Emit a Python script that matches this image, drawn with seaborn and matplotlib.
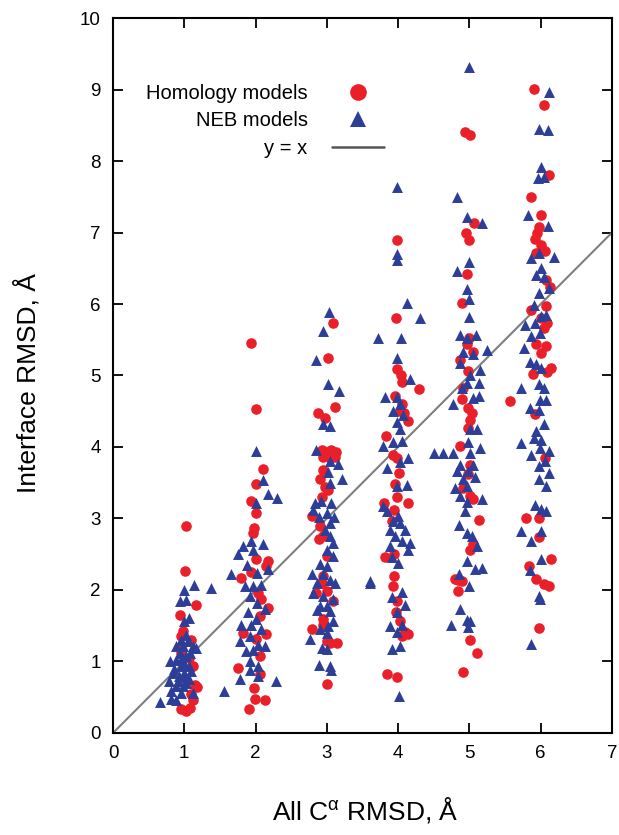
import matplotlib
matplotlib.use("Agg")
import matplotlib.pyplot as plt
from matplotlib.lines import Line2D
import seaborn as sns
import pandas as pd

# 점 좌표 : (All C-alpha RMSD, Interface RMSD)
hom_1 = [(1.03, 2.90), (1.01, 2.27), (1.17, 1.79), (0.94, 1.65), (0.98, 1.42), (0.96, 1.35),
         (1.10, 1.30), (0.95, 1.20), (0.96, 1.12), (1.06, 1.05), (1.12, 0.93), (1.15, 0.67),
         (1.18, 0.64), (1.10, 0.55), (1.12, 0.46), (1.08, 0.35), (0.96, 0.33), (1.02, 0.31)]
neb_1 = [(1.00, 2.00), (1.13, 2.07), (1.37, 2.03), (0.94, 1.84), (1.03, 1.86), (1.06, 1.61),
         (0.99, 1.57), (1.02, 1.37), (0.89, 1.21), (0.98, 1.21), (1.12, 1.21), (1.17, 1.19),
         (0.80, 1.00), (0.89, 1.02), (0.96, 0.93), (1.06, 0.93), (0.84, 0.84), (0.99, 0.84),
         (1.10, 0.86), (0.78, 0.72), (0.91, 0.72), (1.03, 0.70), (0.82, 0.58), (0.96, 0.56),
         (1.12, 0.56), (0.66, 0.44), (0.82, 0.47), (1.56, 0.58), (0.89, 0.46), (0.94, 1.12),
         (1.03, 1.07), (1.08, 1.12), (0.85, 0.90), (0.92, 0.80), (1.02, 0.78), (0.96, 1.30),
         (1.05, 1.28), (0.95, 1.02), (1.00, 0.98), (1.07, 0.75), (0.98, 0.65), (0.88, 0.66)]

hom_2 = [(1.94, 5.46), (2.01, 4.53), (2.11, 3.69), (2.01, 3.48), (1.93, 3.24), (2.01, 3.08),
         (1.98, 2.87), (1.97, 2.80), (2.01, 2.43), (2.18, 2.41), (2.15, 2.33), (1.80, 2.17),
         (1.94, 2.25), (2.04, 1.96), (2.08, 1.87), (2.18, 1.75), (2.06, 1.63), (1.83, 1.40),
         (2.15, 1.39), (2.01, 1.31), (2.06, 1.07), (1.76, 0.91), (2.06, 0.83), (1.98, 0.63),
         (1.99, 0.48), (2.13, 0.46), (1.91, 0.33)]
neb_2 = [(2.01, 3.94), (2.10, 3.54), (2.17, 3.34), (2.30, 3.29), (2.00, 3.22), (1.76, 2.51),
         (1.66, 2.22), (1.83, 2.61), (1.94, 2.68), (2.11, 2.65), (1.97, 2.56), (1.88, 2.35),
         (2.02, 2.24), (2.18, 2.30), (1.85, 2.05), (1.96, 2.05), (2.08, 2.07), (1.92, 1.91),
         (2.02, 1.82), (2.13, 1.73), (1.90, 1.69), (2.00, 1.59), (1.80, 1.51), (1.94, 1.51),
         (2.08, 1.46), (1.92, 1.35), (1.78, 1.28), (2.04, 1.23), (2.13, 1.21), (1.87, 1.14),
         (1.96, 1.16), (1.92, 1.00), (2.04, 0.93), (1.92, 0.88), (1.78, 0.76), (2.03, 0.79),
         (2.29, 0.72)]

hom_3 = [(3.08, 5.73), (3.02, 5.25), (3.11, 4.56), (2.87, 4.48), (2.97, 4.40), (2.93, 3.96),
         (3.00, 3.93), (3.06, 3.96), (3.13, 3.93), (2.95, 3.86), (3.04, 3.84), (3.11, 3.86),
         (2.95, 3.68), (2.90, 3.55), (2.97, 3.44), (3.02, 3.40), (2.93, 3.30), (2.79, 3.03),
         (2.90, 2.89), (2.95, 2.75), (2.89, 2.72), (3.00, 2.47), (2.95, 2.19), (2.93, 2.10),
         (3.00, 1.98), (2.85, 1.96), (3.09, 1.84), (2.95, 1.60), (2.94, 1.51), (2.79, 1.45),
         (3.00, 1.28), (3.04, 1.26), (3.14, 1.26), (3.00, 0.69)]
neb_3 = [(3.03, 5.89), (2.94, 5.62), (2.85, 5.22), (3.01, 4.88), (3.17, 4.78), (2.94, 4.32),
         (3.04, 4.29), (2.85, 3.96), (3.05, 3.80), (3.16, 3.76), (3.02, 3.65), (3.21, 3.55),
         (3.05, 3.49), (2.83, 3.21), (2.92, 3.24), (3.06, 3.21), (2.80, 3.12), (2.89, 3.02),
         (3.00, 3.07), (3.10, 3.02), (3.04, 2.94), (2.97, 2.84), (3.04, 2.75), (3.08, 2.66),
         (3.00, 2.56), (3.08, 2.47), (2.90, 2.37), (3.00, 2.33), (2.79, 2.23), (2.95, 2.23),
         (2.86, 2.10), (3.04, 2.14), (3.11, 2.10), (2.81, 1.96), (2.95, 1.91), (3.08, 1.87),
         (2.90, 1.77), (3.00, 1.77), (3.05, 1.70), (2.86, 1.72), (3.08, 1.56), (3.01, 1.49),
         (2.90, 1.45), (2.76, 1.32), (3.00, 1.40), (2.93, 1.19), (3.00, 1.17), (2.89, 0.95),
         (3.05, 0.93), (3.06, 0.88), (3.60, 2.12), (3.72, 5.52)]

hom_4 = [(3.98, 6.90), (3.97, 5.80), (3.99, 5.09), (4.04, 5.01), (4.06, 4.91), (4.29, 4.81),
         (3.95, 4.71), (4.06, 4.60), (4.02, 4.50), (4.08, 4.47), (4.14, 4.37), (3.83, 4.15),
         (3.93, 3.89), (3.99, 3.84), (4.01, 3.63), (3.96, 3.48), (3.99, 3.30), (4.14, 3.22),
         (3.80, 3.21), (3.94, 3.12), (3.91, 2.97), (3.94, 2.51), (3.82, 2.46), (3.94, 2.20),
         (3.93, 2.05), (3.99, 1.84), (3.97, 1.69), (4.03, 1.56), (4.10, 1.41), (4.14, 1.38),
         (4.06, 1.36), (3.85, 0.82), (3.99, 0.78)]
neb_4 = [(3.98, 7.63), (3.98, 6.70), (3.98, 6.62), (4.13, 6.02), (4.31, 5.81), (4.04, 5.53),
         (3.98, 5.24), (4.16, 4.95), (3.82, 4.70), (3.98, 4.70), (4.03, 4.60), (3.93, 4.50),
         (4.07, 4.45), (3.98, 4.35), (4.03, 4.25), (3.79, 4.02), (3.93, 4.07), (4.05, 4.09),
         (4.14, 3.84), (4.03, 3.79), (3.85, 3.71), (4.63, 3.91), (3.98, 3.45), (4.12, 3.47),
         (3.79, 3.17), (3.84, 3.10), (4.00, 3.04), (3.93, 2.97), (4.03, 2.94), (3.88, 2.84),
         (4.10, 2.84), (3.96, 2.76), (4.05, 2.69), (4.16, 2.66), (3.88, 2.61), (4.14, 2.56),
         (4.00, 2.38), (3.91, 2.46), (3.61, 2.10), (4.05, 1.97), (3.91, 1.90), (4.10, 1.79),
         (3.98, 1.69), (3.88, 1.49), (4.05, 1.51), (3.98, 1.41), (3.92, 1.18), (4.02, 1.21),
         (4.01, 0.52)]

hom_5 = [(4.94, 8.40), (5.01, 8.37), (5.07, 7.14), (4.95, 7.00), (5.00, 6.90), (4.97, 6.42),
         (4.89, 6.01), (5.00, 5.53), (4.96, 5.44), (5.05, 5.33), (4.87, 5.21), (4.98, 5.06),
         (4.91, 4.83), (4.89, 4.67), (4.98, 4.54), (5.03, 4.48), (5.01, 4.38), (4.98, 4.26),
         (4.87, 4.02), (5.01, 3.75), (4.98, 3.62), (4.91, 3.43), (5.01, 3.32), (5.05, 3.27),
         (5.14, 2.98), (5.05, 2.65), (5.01, 2.56), (4.80, 2.16), (4.84, 2.14), (4.89, 2.12),
         (4.84, 1.98), (5.01, 1.30), (5.10, 1.12), (4.91, 0.85)]
neb_5 = [(4.99, 9.32), (4.82, 7.49), (4.97, 7.22), (5.17, 7.13), (5.00, 6.59), (4.82, 6.46),
         (4.96, 6.21), (5.00, 6.07), (5.00, 5.82), (4.87, 5.56), (5.09, 5.56), (4.96, 5.53),
         (5.24, 5.36), (4.91, 5.33), (5.05, 5.30), (4.87, 5.18), (5.15, 5.08), (5.01, 5.01),
         (4.96, 4.89), (5.14, 4.89), (4.90, 4.83), (5.14, 4.71), (5.05, 4.69), (4.77, 4.60),
         (5.01, 4.25), (5.11, 4.25), (4.98, 4.07), (5.15, 3.99), (4.50, 3.91), (4.77, 3.91),
         (5.01, 3.91), (4.87, 3.75), (5.05, 3.75), (4.82, 3.67), (4.98, 3.67), (4.91, 3.55),
         (5.08, 3.58), (4.80, 3.43), (4.96, 3.46), (4.87, 3.32), (4.96, 3.23), (5.17, 3.27),
         (4.94, 3.11), (4.86, 2.91), (4.96, 2.80), (5.03, 2.76), (5.11, 2.62), (4.96, 2.41),
         (5.08, 2.30), (5.17, 2.31), (4.86, 2.22), (5.00, 2.06), (4.87, 1.74), (4.74, 1.51),
         (4.96, 1.58), (5.01, 1.57), (4.98, 1.48)]

hom_6 = [(5.91, 9.01), (6.05, 8.79), (6.12, 7.80), (5.87, 7.49), (6.00, 7.24), (5.98, 7.08),
         (5.95, 6.99), (5.92, 6.91), (6.00, 6.83), (5.93, 6.72), (6.06, 6.74), (6.08, 6.33),
         (6.13, 6.24), (5.87, 5.91), (6.07, 5.97), (6.01, 5.80), (6.09, 5.74), (6.04, 5.66),
         (5.94, 5.44), (6.08, 5.41), (6.00, 5.31), (6.14, 5.11), (6.09, 5.05), (5.89, 5.02),
         (5.57, 4.64), (5.92, 4.46), (6.06, 3.84), (5.79, 3.01), (5.97, 3.00), (5.97, 2.74),
         (6.15, 2.44), (5.84, 2.34), (5.93, 2.16), (6.04, 2.08), (6.12, 2.05), (5.97, 1.47)]
neb_6 = [(6.12, 8.96), (5.97, 8.45), (6.10, 8.43), (6.00, 7.92), (5.96, 7.76), (6.05, 7.77),
         (5.82, 7.24), (6.10, 7.09), (5.87, 6.65), (5.98, 6.72), (6.18, 6.66), (6.01, 6.50),
         (5.94, 6.41), (6.04, 6.38), (6.11, 6.23), (5.98, 6.16), (5.90, 5.99), (5.78, 5.71),
         (6.01, 5.83), (5.92, 5.74), (6.08, 5.85), (5.87, 5.55), (5.99, 5.60), (5.76, 5.38),
         (5.85, 5.19), (5.94, 5.16), (6.01, 5.10), (5.97, 4.88), (6.04, 4.82), (5.72, 4.82),
         (5.99, 4.66), (5.85, 4.55), (6.07, 4.66), (5.97, 4.52), (6.05, 4.32), (5.94, 4.22),
         (5.72, 4.06), (5.90, 4.13), (6.01, 4.10), (5.99, 3.99), (6.11, 3.94), (5.87, 3.89),
         (6.06, 3.80), (5.97, 3.74), (6.11, 3.63), (5.98, 3.55), (6.08, 3.46), (5.92, 3.19),
         (6.00, 3.13), (6.07, 3.10), (5.72, 2.82), (5.87, 2.69), (6.01, 2.82), (6.01, 2.44),
         (5.85, 2.28), (5.97, 1.91), (5.99, 1.88), (5.86, 1.25)]

XTICKS = [0, 1, 2, 3, 4, 5, 6, 7]
YTICKS = [0, 1, 2, 3, 4, 5, 6, 7, 8, 9, 10]
RED = "#ea1f29"
BLUE = "#2d3e98"
LINE_GRAY = "#7f7f7f"


def to_frame(groups, label):
    rows = [p for g in groups for p in g]
    df = pd.DataFrame(rows, columns=["ca_rmsd", "iface_rmsd"])
    df["model"] = label
    return df


hom = to_frame([hom_1, hom_2, hom_3, hom_4, hom_5, hom_6], "Homology models")
neb = to_frame([neb_1, neb_2, neb_3, neb_4, neb_5, neb_6], "NEB models")

sns.set_style("ticks")
plt.rcParams["font.family"] = ["Liberation Sans", "DejaVu Sans"]
plt.rcParams["text.color"] = "black"
plt.rcParams["axes.labelcolor"] = "black"
plt.rcParams["mathtext.fontset"] = "custom"
plt.rcParams["mathtext.rm"] = "Liberation Sans"
plt.rcParams["mathtext.it"] = "Liberation Sans"

fig = plt.figure(figsize=(6.19, 8.35), dpi=100)
ax = fig.add_axes([0.1826, 0.1222, 0.8061, 0.8562])

# y = x 기준선
ax.plot([0, 7], [0, 7], color=LINE_GRAY, lw=1.5, zorder=1)

sns.scatterplot(data=hom, x="ca_rmsd", y="iface_rmsd", marker="o", color=RED,
                s=58, linewidth=0, ax=ax, zorder=2)
sns.scatterplot(data=neb, x="ca_rmsd", y="iface_rmsd", marker="^", color=BLUE,
                s=62, linewidth=0, ax=ax, zorder=3)

ax.set_xlim(0, 7)
ax.set_ylim(0, 10)
ax.set_xticks(XTICKS)
ax.set_yticks(YTICKS)
ax.tick_params(direction="in", length=7, width=1.3, top=True, right=True,
               labelsize=13.5, colors="black")
ax.tick_params(axis="x", pad=9)
ax.tick_params(axis="y", pad=9)
for sp in ax.spines.values():
    sp.set_linewidth(1.5)
    sp.set_color("black")

ax.set_xlabel(r"All C$^{\alpha}$ RMSD, Å", fontsize=19)
ax.set_ylabel("Interface RMSD, Å", fontsize=19)
ax.xaxis.set_label_coords(0.505, -0.087)
ax.yaxis.set_label_coords(-0.146, 0.49)

handles = [
    Line2D([], [], marker="o", color=RED, ls="none", markersize=12, markeredgewidth=0),
    Line2D([], [], marker="^", color=BLUE, ls="none", markersize=12, markeredgewidth=0),
    Line2D([], [], color="#555555", lw=1.8),
]
labels = ["Homology models", "NEB models", "y = x"]
ax.legend(handles, labels, loc="upper left", bbox_to_anchor=(0.066, 0.908),
          frameon=False, markerfirst=False, fontsize=14.5, handlelength=2.6,
          handletextpad=1.2, labelspacing=0.42, borderpad=0, borderaxespad=0)

fig.savefig("out.png", dpi=100)
